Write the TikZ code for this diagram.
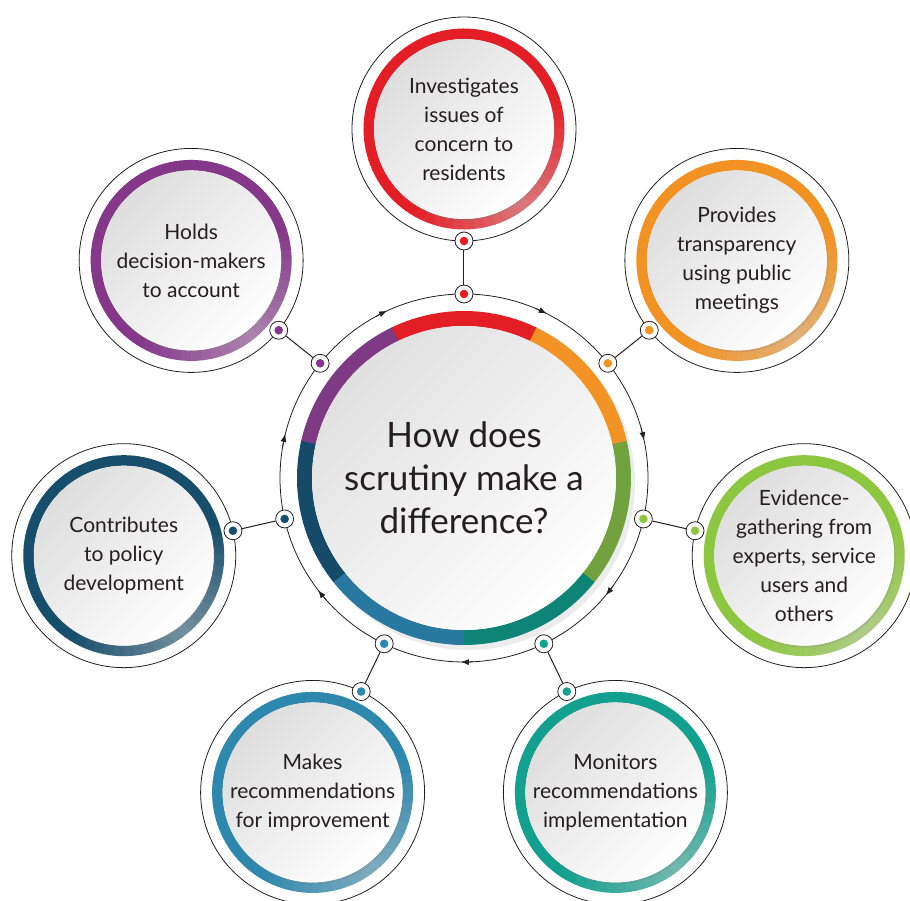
\documentclass[tikz,border=0pt]{standalone}
\usepackage{fontspec}
\setmainfont{Lato}
\usetikzlibrary{shadows}
\usetikzlibrary{positioning}
\usetikzlibrary{arrows.meta}
\usetikzlibrary{calc}
\definecolor{ink}{HTML}{231F20}
\definecolor{cred}{HTML}{E41E26}
\definecolor{corange}{HTML}{F29222}
\definecolor{cgreen}{HTML}{8DC63F}
\definecolor{cteal}{HTML}{13A08E}
\definecolor{cblue}{HTML}{2E87AD}
\definecolor{cnavy}{HTML}{174E6C}
\definecolor{cpurple}{HTML}{85388A}
\definecolor{mred}{HTML}{E31E25}
\definecolor{morange}{HTML}{F39325}
\definecolor{mgreen}{HTML}{72A23E}
\definecolor{mteal}{HTML}{0E8476}
\definecolor{mblue}{HTML}{2878A0}
\definecolor{mnavy}{HTML}{154B68}
\definecolor{mpurple}{HTML}{7E3A82}
\colorlet{fadec}{white!82!black}
\tikzstyle{bubble}=[circle,draw=ink,line width=0.8pt,fill=white,minimum size=224pt,inner sep=0pt]
\tikzstyle{whitedisc}=[circle,minimum size=180pt,inner sep=0pt,top color=black!13,bottom color=white,shading angle=45,drop shadow={shadow xshift=1.5pt,shadow yshift=-2pt,opacity=0.2}]
\tikzstyle{bubbletext}=[text=ink,align=center,inner sep=0pt,font=\fontsize{21}{29}\selectfont]
\tikzstyle{hubdisc}=[circle,minimum size=304pt,inner sep=0pt,top color=black!12,bottom color=white,shading angle=45,text=ink,align=center,font=\fontsize{35}{43}\selectfont]
\tikzstyle{dotring}=[circle,draw=ink,line width=0.8pt,fill=white,minimum size=18pt,inner sep=0pt]

\begin{document}
\begin{tikzpicture}[x=1pt,y=1pt]

  \useasboundingbox (-464,-422) rectangle (446,478);

  % track round the hub
  \draw[ink, line width=0.8pt] (0,0) circle (184);
  \foreach \a in {115.71,64.29,12.86,-38.57,-90,-141.43,-192.86}
      \draw[ink, line width=0.8pt, -{Latex[length=8pt,width=6pt]}] (\a+3:184) arc (\a+3:\a-1:184);

  % hub
  \node[circle, minimum size=334pt, fill=white, drop shadow={shadow xshift=4pt,shadow yshift=-5pt,opacity=0.15}] (hubback) at (0,0) {};
  \foreach \i/\col in {0/mred,1/morange,2/mgreen,3/mteal,4/mblue,5/mnavy,6/mpurple}
      \draw[\col, line width=15pt] ({115.71-\i*51.43}:159.5) arc ({115.71-\i*51.43}:{64.1-\i*51.43}:159.5);
  \node[hubdisc] (hub) at (0,0) {How does\\scrutiny make a\\difference?};

  % satellites
  \foreach \ang/\name/\col/\txt in {90/inv/cred/{Investigates\\issues of\\concern to\\residents},
        38.57/trans/corange/{Provides\\transparency\\using public\\meetings},
        -12.86/evid/cgreen/{Evidence-\\gathering from\\experts, service\\users and\\others},
        -64.29/monit/cteal/{Monitors\\recommendations\\implementation},
        -115.71/recom/cblue/{Makes\\recommendations\\for improvement},
        -167.14/policy/cnavy/{Contributes\\to policy\\development},
        141.43/hold/cpurple/{Holds\\decision-makers\\to account}}
  {
      \node[dotring] (\name-in) at (\ang:184) {};
      \node[bubble] (\name) at (\ang:349) {};
      % coloured ring, fading towards the lower right
      \foreach \t [evaluate=\t as \p using {min(100,50+50*abs(mod(\t+55+540,360)-180)/70)}] in {0,6,...,354}
          \draw[\col!\p!fadec, line width=10.5pt] ($(\name)+(\t:95.25)$) arc (\t:\t+6.6:95.25);
      \node[whitedisc] (\name-disc) at (\name) {};
      \node[bubbletext] (\name-text) at (\name) {\txt};
      \node[dotring] (\name-out) at (\ang:237) {};
      \draw[ink, line width=1pt] (\name-in) -- (\name-out);
      \fill[\col] (\name-in) circle (4.3);
      \fill[\col] (\name-out) circle (4.3);
  }

\end{tikzpicture}
\end{document}
